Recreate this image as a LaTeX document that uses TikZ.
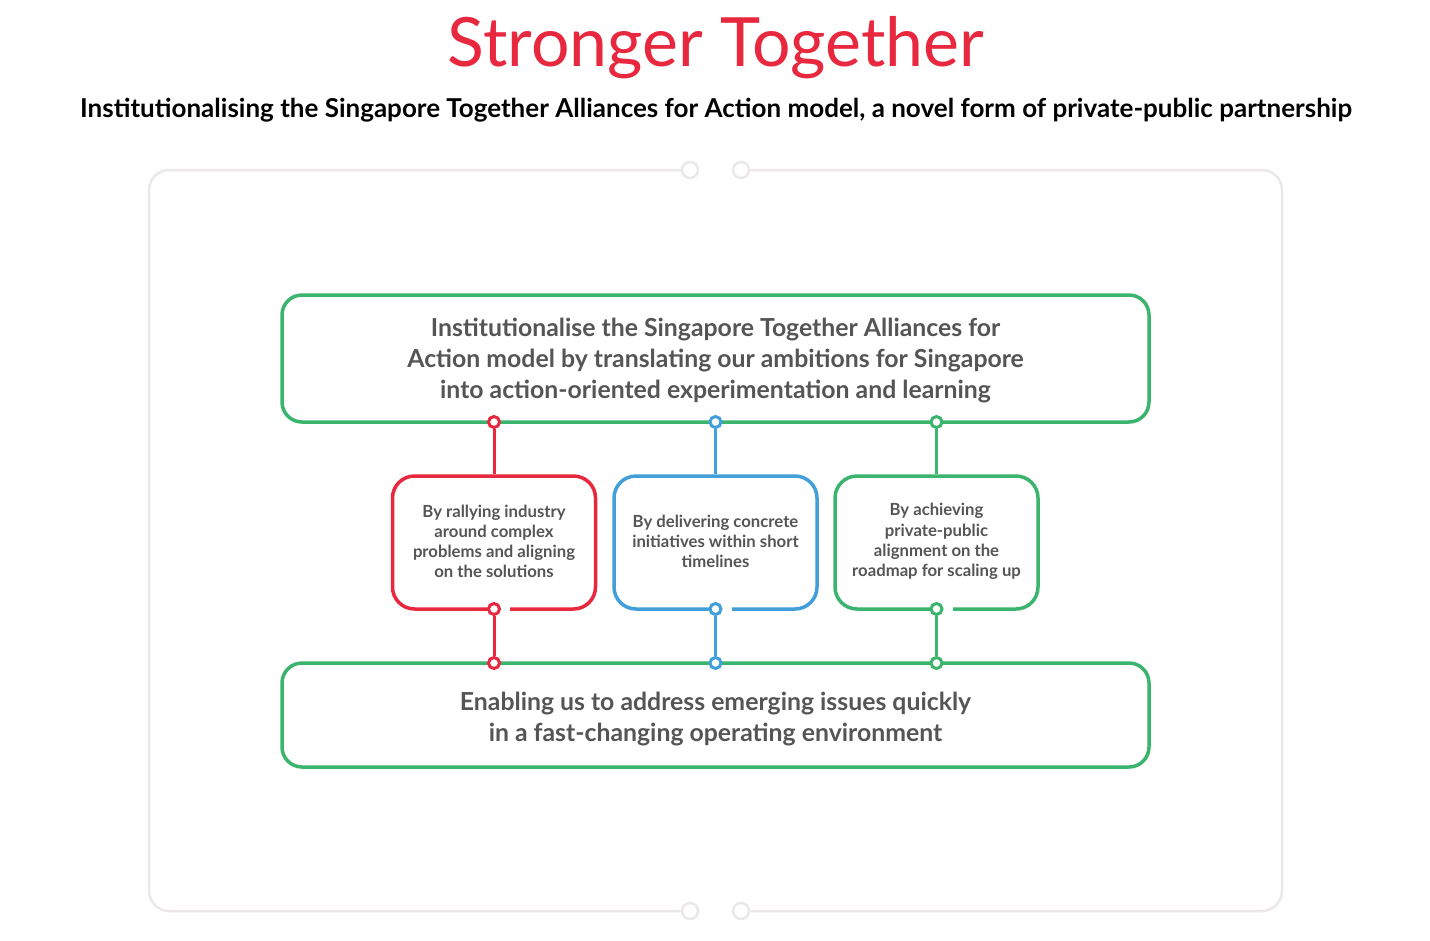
\documentclass[tikz,border=0pt]{standalone}
\usepackage{fontspec}
\setmainfont{Lato}
\definecolor{cred}{HTML}{E8283F}
\definecolor{cblue}{HTML}{429FDA}
\definecolor{cgreen}{HTML}{3BB56D}
\definecolor{cframe}{HTML}{ECE8E9}
\definecolor{ctext}{HTML}{555555}
\tikzset{
  bigbox/.style={draw=cgreen, line width=3.5pt, rounded corners=20pt, minimum width=867pt, text=ctext, align=center, font=\fontsize{24.8}{31}\selectfont\bfseries},
  smallbox/.style={draw=#1, line width=3.5pt, rounded corners=22pt, minimum width=203pt, minimum height=133pt, text=ctext, align=center, font=\fontsize{16.7}{20.2}\selectfont\bfseries},
  dot/.style={circle, draw=#1, fill=white, line width=3pt, minimum size=11pt, inner sep=0pt},
  fdot/.style={circle, draw=cframe, fill=white, line width=2.5pt, minimum size=16pt, inner sep=0pt},
  link/.style={draw=#1, line width=3pt},
  frameline/.style={draw=cframe, line width=2.5pt, rounded corners=20pt},
  boxtext/.style={align=center, text=ctext, inner sep=0pt}
}
\begin{document}
\begin{tikzpicture}[x=1pt,y=-1pt]
\useasboundingbox[fill=white] (0,0) rectangle (1430,940);
% title
\node[anchor=base, text=cred, font=\fontsize{68}{74}\selectfont] (title) at (716,66) {Stronger Together};
\node[anchor=base, font=\fontsize{26}{30}\selectfont\bfseries] (subtitle) at (716,117) {Institutionalising the Singapore Together Alliances for Action model, a novel form of private-public partnership};
% frame
\node[fdot] (ft1) at (690,170) {};
\node[fdot] (ft2) at (741,170) {};
\node[fdot] (fb1) at (690,911) {};
\node[fdot] (fb2) at (741,911) {};
\draw[frameline] (ft1.west) -- (149,170) -- (149,911) -- (fb1.west);
\draw[frameline] (ft2.east) -- (1282,170) -- (1282,911) -- (fb2.east);
% big boxes
\node[bigbox, minimum height=127pt] (top) at (715.5,358.5) {};
\node[boxtext, font=\fontsize{24.8}{31}\selectfont\bfseries] (toptext) at (715.5,360.5) {Institutionalise the Singapore Together Alliances for\\Action model by translating our ambitions for Singapore\\into action-oriented experimentation and learning};
\node[bigbox, minimum height=104pt] (bottom) at (715.5,715) {};
\node[boxtext, font=\fontsize{24.8}{31}\selectfont\bfseries] (bottomtext) at (715.5,719) {Enabling us to address emerging issues quickly\\in a fast-changing operating environment};
% small boxes
\node[smallbox=cred] (s1) at (494,542.5) {};
\node[boxtext, font=\fontsize{16.7}{20.2}\selectfont\bfseries] (t1) at (494,541.5) {By rallying industry\\around complex\\problems and aligning\\on the solutions};
\node[smallbox=cblue] (s2) at (715.5,542.5) {};
\node[boxtext, font=\fontsize{16.7}{20.2}\selectfont\bfseries] (t2) at (715.5,541.5) {By delivering concrete\\initiatives within short\\timelines};
\node[smallbox=cgreen] (s3) at (936.5,542.5) {};
\node[boxtext, font=\fontsize{16.7}{20.2}\selectfont\bfseries] (t3) at (936.5,541.5) {By achieving\\private-public\\alignment on the\\roadmap for scaling up};
% gaps in small box bottom edges
\fill[white] (500,605) rectangle (510,613);
\fill[white] (721.5,605) rectangle (731.5,613);
\fill[white] (942.5,605) rectangle (952.5,613);
% dots
\node[dot=cred] (a1) at (494,422) {};
\node[dot=cred] (b1) at (494,609) {};
\node[dot=cred] (c1) at (494,663) {};
\node[dot=cblue] (a2) at (715.5,422) {};
\node[dot=cblue] (b2) at (715.5,609) {};
\node[dot=cblue] (c2) at (715.5,663) {};
\node[dot=cgreen] (a3) at (936.5,422) {};
\node[dot=cgreen] (b3) at (936.5,609) {};
\node[dot=cgreen] (c3) at (936.5,663) {};
% links
\draw[link=cred] (a1.south) -- (s1.north);
\draw[link=cred] (b1.south) -- (c1.north);
\draw[link=cblue] (a2.south) -- (s2.north);
\draw[link=cblue] (b2.south) -- (c2.north);
\draw[link=cgreen] (a3.south) -- (s3.north);
\draw[link=cgreen] (b3.south) -- (c3.north);
\end{tikzpicture}
\end{document}
